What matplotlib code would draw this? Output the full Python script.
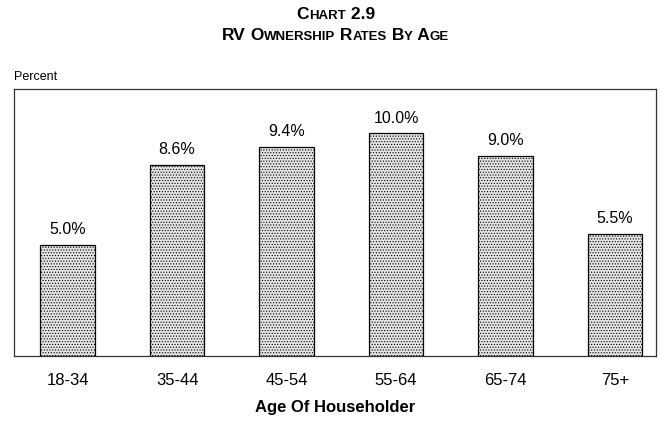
import matplotlib
matplotlib.use('Agg')
import matplotlib.pyplot as plt

plt.rcParams['font.family'] = ['Liberation Sans', 'DejaVu Sans']
plt.rcParams['hatch.color'] = '#cdcdcd'
plt.rcParams['hatch.linewidth'] = 0.5

# Data
age_groups = ['18-34', '35-44', '45-54', '55-64', '65-74', '75+']
rates = [5.0, 8.6, 9.4, 10.0, 9.0, 5.5]
value_labels = ['5.0%', '8.6%', '9.4%', '10.0%', '9.0%', '5.5%']

fig = plt.figure(figsize=(6.71, 4.34), dpi=100)
ax = fig.add_axes([0.0209, 0.1797, 0.9567, 0.6153])

x = list(range(len(age_groups)))
ax.bar(x, rates, width=0.5, color='#e4e4e4', edgecolor='black',
       linewidth=0.9, hatch='......')

for xi, r, lab in zip(x, rates, value_labels):
    ax.text(xi, r + 0.35, lab, ha='center', va='bottom', fontsize=11.5)

ax.set_xlim(-0.49, 5.375)
ax.set_ylim(0, 12)
ax.set_yticks([])
ax.set_xticks(x)
ax.set_xticklabels(age_groups, fontsize=12)
ax.tick_params(axis='x', length=0, pad=12)
for s in ax.spines.values():
    s.set_color('#333333')
    s.set_linewidth(0.9)

ax.set_xlabel('Age Of Householder', fontsize=12, fontweight='bold', labelpad=9)
fig.text(14 / 671, 1 - 80 / 434, 'Percent', fontsize=9, ha='left', va='baseline')


def small_caps(y_px, words, big=12.5, small=9.5):
    # draw a bold small-caps line centred on the figure
    fig.canvas.draw()
    r = fig.canvas.get_renderer()
    pieces = []
    for i, w in enumerate(words):
        pre = '' if i == 0 else ' '
        if w.upper() == w:
            pieces.append((pre + w, big))
        else:
            pieces.append((pre + w[0], big))
            pieces.append((w[1:].upper(), small))
    arts = []
    total = 0
    for txt, size in pieces:
        t = fig.text(0, 1 - y_px / 434, txt, fontsize=size, fontweight='bold',
                     ha='left', va='baseline')
        w = t.get_window_extent(r).width
        arts.append((t, w))
        total += w
    start = (fig.bbox.width - total) / 2
    for t, w in arts:
        t.set_x(start / fig.bbox.width)
        start += w


small_caps(19, ['Chart', '2.9'])
small_caps(40, ['RV', 'Ownership', 'Rates', 'By', 'Age'])

fig.savefig('out.png', dpi=100)
